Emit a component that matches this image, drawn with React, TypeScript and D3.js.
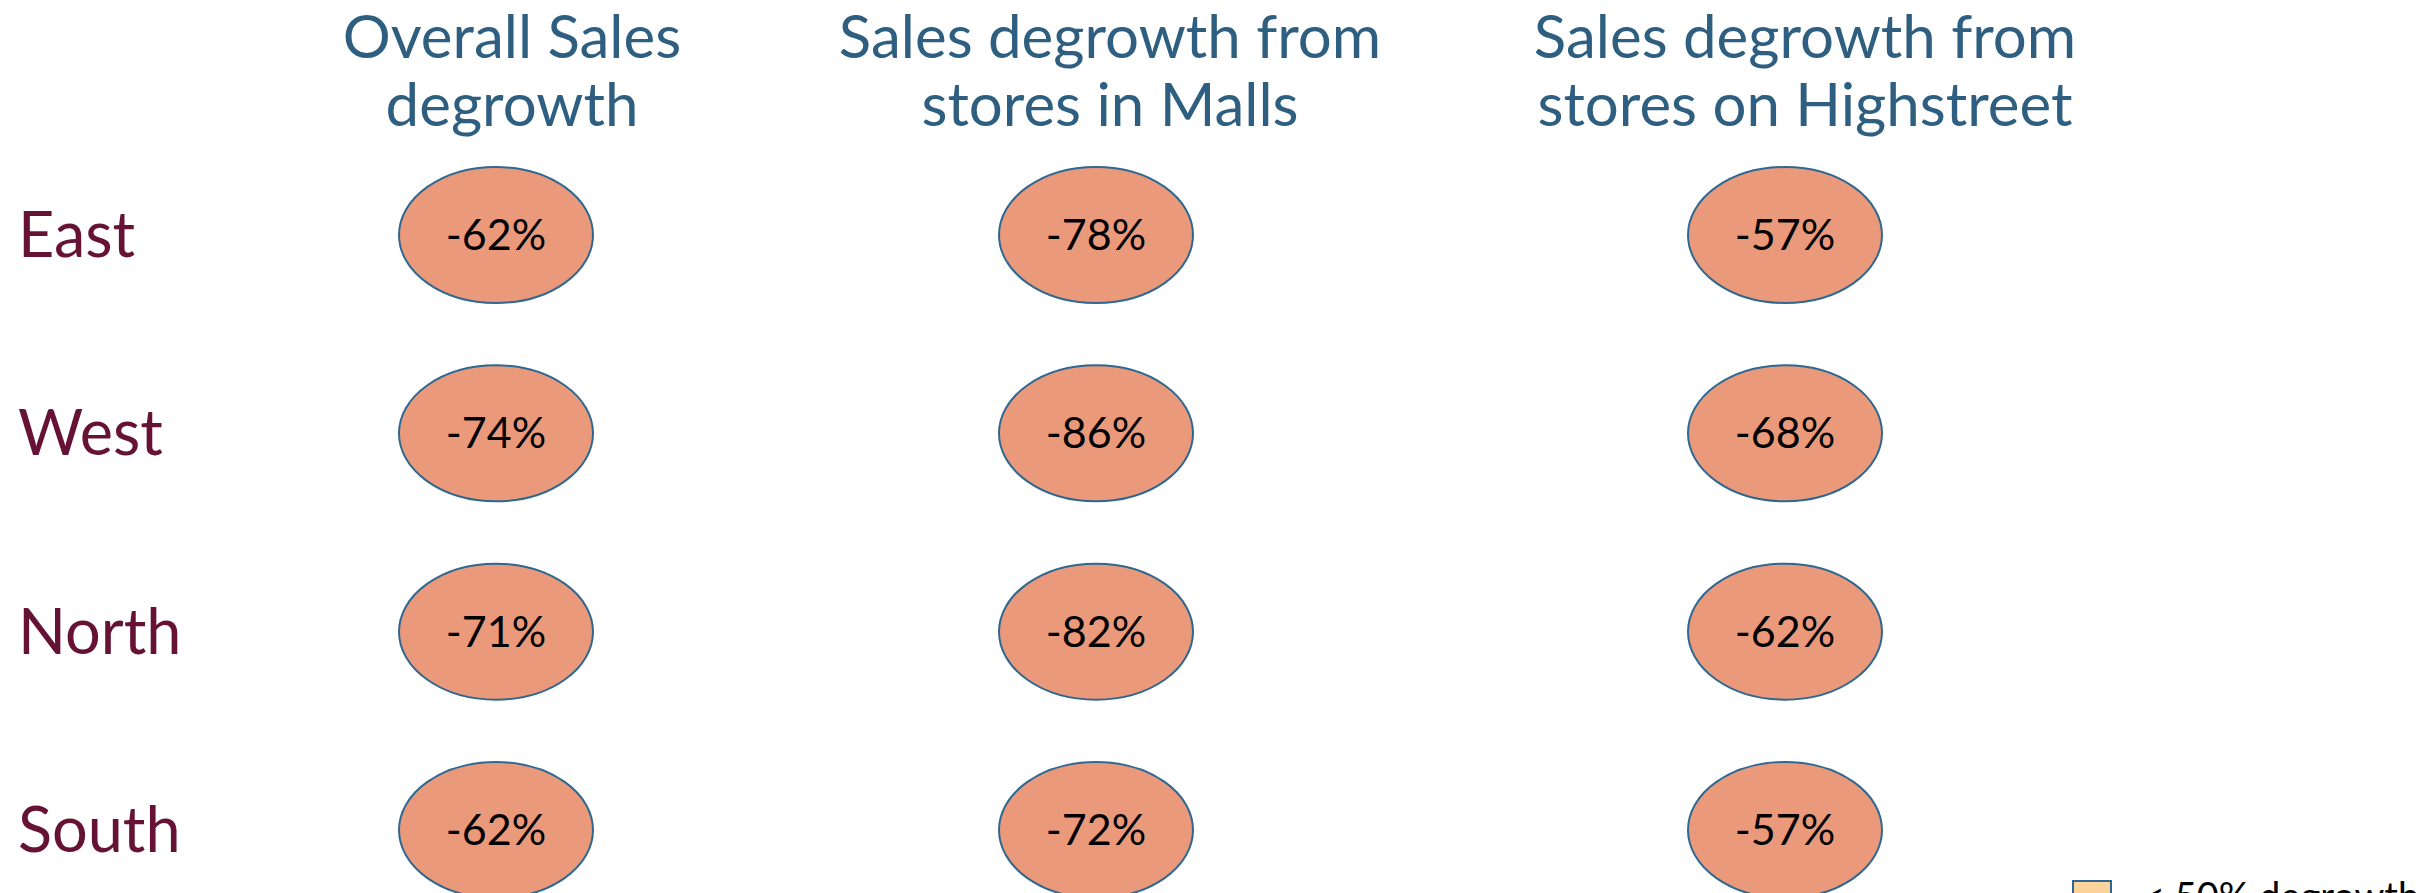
import React from "react";
import { scalePoint, scaleOrdinal } from "d3";

const regions = ["East", "West", "North", "South"];
const columns = ["overall", "malls", "highstreet"];
const columnTitles = [
  ["Overall Sales", "degrowth"],
  ["Sales degrowth from", "stores in Malls"],
  ["Sales degrowth from", "stores on Highstreet"],
];
// degrowth in %, one array per column, ordered like regions
const overall = [-62, -74, -71, -62];
const malls = [-78, -86, -82, -72];
const highstreet = [-57, -68, -62, -57];
const legendItems = [{ label: "< 50% degrowth", color: "#FCD39B" }];

const W = 2428;
const H = 893;

const App = () => {
  const series = [overall, malls, highstreet];

  const y = scalePoint().domain(regions).range([235, 830]);
  const x = scaleOrdinal<string, number>().domain(columns).range([496, 1096, 1785]);
  const xTitle = scaleOrdinal<string, number>().domain(columns).range([512, 1110, 1805]);

  const rx = 97;
  const ry = 68;
  const font = "Lato, 'Open Sans', sans-serif";

  return (
    <svg
      width={W}
      height={H}
      viewBox={`0 0 ${W} ${H}`}
      style={{ position: "absolute", left: 0, top: 0, background: "#fff" }}
    >
      {/* column headers */}
      {columns.map((c, i) => (
        <text
          key={c}
          x={xTitle(c)}
          textAnchor="middle"
          fill="#2F5F80"
          fontFamily={font}
          fontSize={60}
        >
          {columnTitles[i].map((t, j) => (
            <tspan key={j} x={xTitle(c)} y={58 + j * 68}>
              {t}
            </tspan>
          ))}
        </text>
      ))}

      {/* row labels */}
      {regions.map((r) => (
        <text
          key={r}
          x={18}
          y={y(r)! + 22}
          fill="#661234"
          fontFamily={font}
          fontSize={63}
        >
          {r}
        </text>
      ))}

      {/* bubbles */}
      {columns.map((c, i) =>
        regions.map((r, j) => (
          <g key={c + r} transform={`translate(${x(c)},${y(r)})`}>
            <ellipse rx={rx} ry={ry} fill="#EB997B" stroke="#2E6891" strokeWidth={2} />
            <text
              textAnchor="middle"
              dy={15}
              fill="#000"
              fontFamily={font}
              fontSize={43}
            >
              {series[i][j]}%
            </text>
          </g>
        ))
      )}

      {/* legend (cut off at the bottom edge) */}
      {legendItems.map((d, i) => (
        <g key={d.label} transform={`translate(2073,${881 + i * 60})`}>
          <rect width={38} height={38} fill={d.color} stroke="#2E6891" strokeWidth={2} />
          <text x={70} y={29} fontFamily={font} fontSize={38} fill="#000">
            {d.label}
          </text>
        </g>
      ))}
    </svg>
  );
};

export default App;
